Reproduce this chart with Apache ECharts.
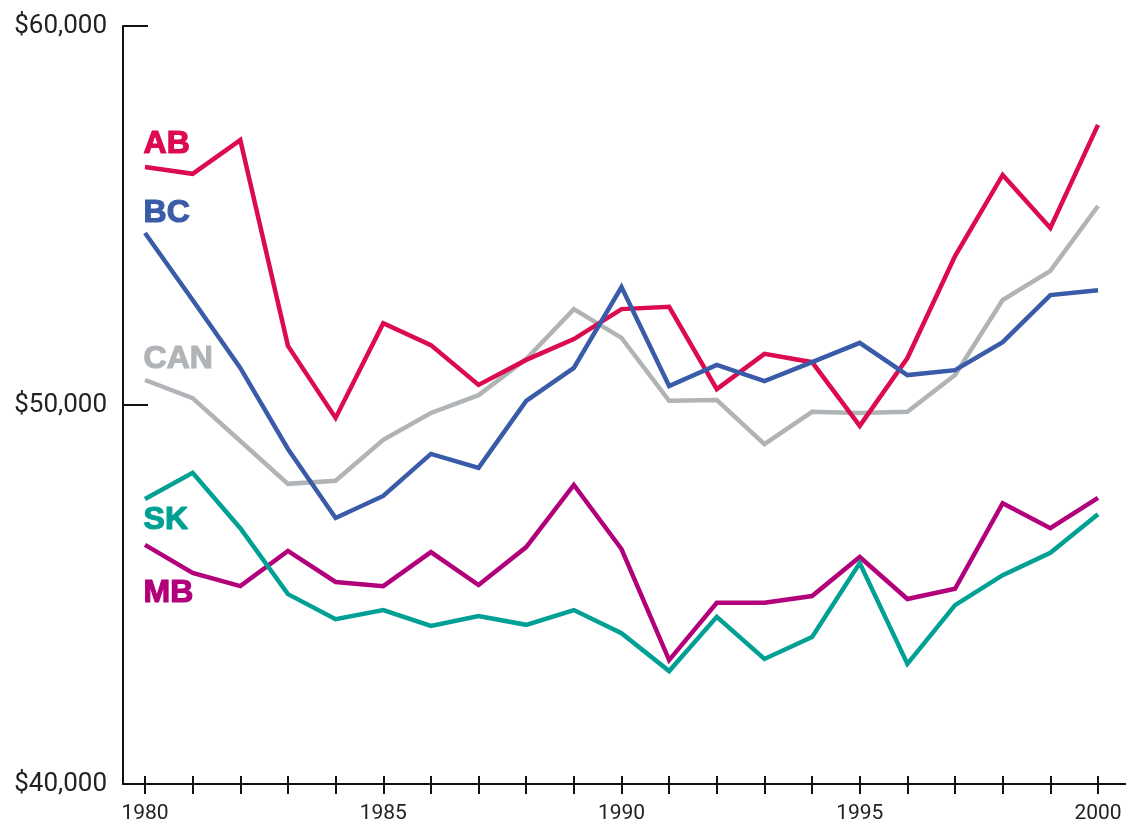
<!DOCTYPE html>
<html>
<head>
<meta charset="utf-8">
<script src="https://cdn.jsdelivr.net/npm/echarts@6/dist/echarts.min.js"></script>
<style>
  html, body { margin: 0; padding: 0; background: #fff; }
  #chart { width: 1126px; height: 831px; }
</style>
</head>
<body>
<div id="chart"></div>
<script>
// years 1980..2000
let years = ['1980', '1981', '1982', '1983', '1984', '1985', '1986', '1987', '1988', '1989', '1990',
    '1991', '1992', '1993', '1994', '1995', '1996', '1997', '1998', '1999', '2000'];

// values (dollars)
let ab = [56280, 56100, 56990, 51560, 49660, 52160, 51580, 50530, 51190, 51740, 52530,
    52590, 50420, 51350, 51130, 49450, 51240, 53930, 56070, 54670, 57390];
let bc = [54540, 52770, 50980, 48840, 47020, 47600, 48710, 48340, 50110, 50980, 53110,
    50500, 51060, 50630, 51130, 51640, 50790, 50920, 51660, 52900, 53030];
let can = [50660, 50180, 49050, 47920, 48000, 49080, 49790, 50260, 51210, 52530, 51770,
    50110, 50130, 48970, 49820, 49790, 49820, 50790, 52770, 53540, 55250];
let sk = [47520, 48210, 46750, 45010, 44350, 44590, 44170, 44430, 44200, 44590, 43980,
    42980, 44410, 43300, 43880, 45830, 43170, 44720, 45510, 46100, 47120];
let mb = [46310, 45570, 45220, 46150, 45330, 45220, 46120, 45250, 46250, 47890, 46200,
    43270, 44780, 44780, 44960, 45990, 44880, 45150, 47410, 46750, 47550];

let yTicks = [40000, 50000, 60000];

const COLORS = {
    AB: '#dc0a4e',
    BC: '#3a5ca8',
    CAN: '#b1b4b7',
    SK: '#00a094',
    MB: '#b2007b'
};

let myChart = echarts.init(document.getElementById('chart'), null, {renderer: 'canvas'});

function line(name, data) {
    return {
        name: name,
        type: 'line',
        xAxisIndex: 0,
        yAxisIndex: 0,
        data: data,
        symbol: 'none',
        smooth: false,
        lineStyle: {color: COLORS[name], width: 4.5, cap: 'butt', join: 'miter'},
        itemStyle: {color: COLORS[name]},
        animation: false,
        z: 3
    };
}

// series name tags at the left end of each line
function tag(text, x, y) {
    return {
        type: 'text',
        left: x,
        top: y,
        style: {
            text: text,
            fill: COLORS[text],
            stroke: COLORS[text],
            lineWidth: 1.2,
            font: 'bold 32px "Liberation Sans", Arial, sans-serif'
        }
    };
}

let option = {
    animation: false,
    backgroundColor: '#fff',
    grid: [
        {left: 145, right: 28, top: 26, bottom: 47},
        {left: 123, right: 0, top: 26, bottom: 47}
    ],
    xAxis: [
        {
            gridIndex: 0,
            type: 'category',
            position: 'bottom',
            data: years,
            boundaryGap: false,
            axisLine: {show: false},
            axisTick: {show: true, interval: 0, length: 10, lineStyle: {color: '#111', width: 2}},
            axisLabel: {
                interval: function (i, v) { return Number(v) % 5 === 0; },
                margin: 19,
                color: '#222',
                fontFamily: 'Roboto',
                fontSize: 21
            },
            splitLine: {show: false}
        },
        {
            gridIndex: 0,
            type: 'category',
            position: 'bottom',
            data: years,
            boundaryGap: false,
            axisLine: {show: false},
            axisTick: {show: true, inside: true, interval: 0, length: 8, lineStyle: {color: '#111', width: 2}},
            axisLabel: {show: false},
            splitLine: {show: false}
        },
        {
            gridIndex: 1,
            type: 'value',
            position: 'bottom',
            min: 0,
            max: 1,
            axisLine: {show: true, lineStyle: {color: '#111', width: 2}},
            axisTick: {show: false},
            axisLabel: {show: false},
            splitLine: {show: false}
        }
    ],
    yAxis: [
        {
            gridIndex: 0,
            type: 'value',
            min: 40000,
            max: 60000,
            show: false
        },
        {
            gridIndex: 1,
            type: 'value',
            min: yTicks[0],
            max: yTicks[yTicks.length - 1],
            interval: 10000,
            axisLine: {show: true, lineStyle: {color: '#111', width: 2}},
            axisTick: {show: true, inside: true, length: 25, lineStyle: {color: '#111', width: 2}},
            axisLabel: {
                margin: 16,
                color: '#222',
                fontFamily: 'Roboto',
                fontSize: 26,
                formatter: function (v) { return '$' + v.toLocaleString('en-US'); }
            },
            splitLine: {show: false}
        }
    ],
    graphic: [
        tag('AB', 143, 128),
        tag('BC', 143, 197),
        tag('CAN', 143, 343),
        tag('SK', 143, 504),
        tag('MB', 143, 577)
    ],
    series: [
        line('CAN', can),
        line('AB', ab),
        line('BC', bc),
        line('MB', mb),
        line('SK', sk)
    ]
};

myChart.setOption(option);
</script>
</body>
</html>
